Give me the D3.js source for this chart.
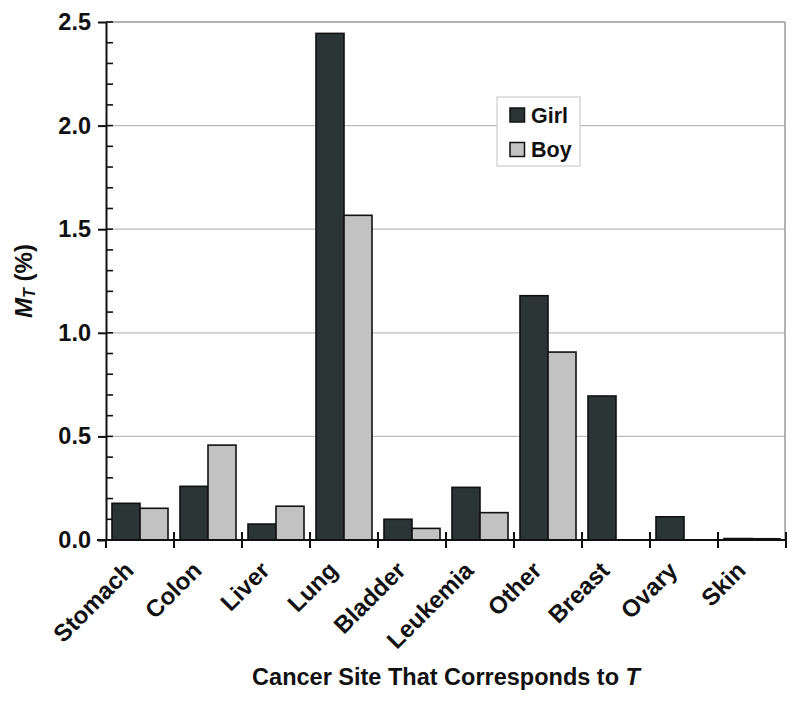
<!DOCTYPE html>
<html>
<head>
<meta charset="utf-8">
<script src="https://cdn.jsdelivr.net/npm/d3@7/dist/d3.min.js"></script>
<style>
  body { margin: 0; background: #fff; }
  svg { display: block; }
  text { font-family: "Liberation Sans", Arial, Helvetica, sans-serif; font-weight: bold; fill: #111; }
</style>
</head>
<body>
<svg id="chart" width="800" height="703"></svg>
<script>
const categories = ["Stomach", "Colon", "Liver", "Lung", "Bladder", "Leukemia", "Other", "Breast", "Ovary", "Skin"];
const seriesNames = ["Girl", "Boy"];
const girlValues = [0.177, 0.259, 0.077, 2.445, 0.100, 0.254, 1.179, 0.695, 0.112, 0.007];
const boyValues  = [0.153, 0.458, 0.163, 1.567, 0.056, 0.132, 0.907, 0, 0, 0.006];
const yTicks = [0.0, 0.5, 1.0, 1.5, 2.0, 2.5];
const colors = { Girl: "#2c3535", Boy: "#c2c2c2" };

const svg = d3.select("#chart");
const L = 106, R = 786, T = 22, B = 540;

const x = d3.scaleBand().domain(categories).range([L, R]).padding(0);
const x1 = d3.scaleBand().domain(seriesNames).range([0, x.bandwidth()]).paddingInner(0).paddingOuter(0.214);
const y = d3.scaleLinear().domain([0, 2.5]).range([B, T]);

const rows = categories.map((c, i) => ({ cat: c, Girl: girlValues[i], Boy: boyValues[i] }));

// gridlines
svg.append("g").selectAll("line").data(yTicks.slice(1)).join("line")
  .attr("x1", L).attr("x2", R - 1).attr("y1", d => y(d)).attr("y2", d => y(d))
  .attr("stroke", d => d === 2.5 ? "#999" : "#bbb").attr("stroke-width", d => d === 2.5 ? 1.5 : 1.2);
// right border
svg.append("line").attr("x1", R - 1).attr("x2", R - 1).attr("y1", T).attr("y2", B)
  .attr("stroke", "#999").attr("stroke-width", 1.5);

// bars
const g = svg.append("g");
rows.forEach(r => {
  seriesNames.forEach(s => {
    if (r[s] <= 0) return;
    g.append("rect")
      .attr("x", x(r.cat) + x1(s))
      .attr("width", x1.bandwidth())
      .attr("y", y(r[s]))
      .attr("height", B - y(r[s]))
      .attr("fill", colors[s])
      .attr("stroke", "#111")
      .attr("stroke-width", 1.6);
  });
});

// y axis
const yAxis = d3.axisLeft(y).tickValues(yTicks).tickFormat(d3.format(".1f")).tickSize(8).tickSizeOuter(0).tickPadding(7);
const ya = svg.append("g").attr("transform", `translate(${L},0)`).call(yAxis);
ya.select(".domain").attr("stroke", "#111").attr("stroke-width", 2);
ya.selectAll(".tick line").attr("stroke", "#111").attr("stroke-width", 2).attr("x2", -8);
ya.selectAll(".tick text").attr("font-size", 23.5).attr("font-family", "Liberation Sans, Arial, sans-serif").attr("font-weight", "bold").attr("fill", "#111");
// minor ticks inside
const minor = d3.range(0, 26).map(i => i / 10);
svg.append("g").selectAll("line").data(minor).join("line")
  .attr("x1", L).attr("x2", L + 7).attr("y1", d => y(d)).attr("y2", d => y(d))
  .attr("stroke", "#111").attr("stroke-width", 1.6);

// x axis line
svg.append("line").attr("x1", L - 9).attr("x2", R).attr("y1", B).attr("y2", B)
  .attr("stroke", "#111").attr("stroke-width", 2);
// boundary ticks
const bounds = categories.map(c => x(c)).concat([x.range()[1]]);
svg.append("g").selectAll("line").data(bounds).join("line")
  .attr("x1", d => d).attr("x2", d => d).attr("y1", (d, i) => i === 0 ? B : B - 8).attr("y2", B + 8)
  .attr("stroke", "#111").attr("stroke-width", 2);

// x labels
svg.append("g").selectAll("text").data(categories).join("text")
  .attr("transform", d => `translate(${x(d) + x.bandwidth() / 2 - 5},572) rotate(-45)`)
  .attr("text-anchor", "end")
  .attr("font-size", 24)
  .text(d => d);

// x title
const xt = svg.append("text").attr("x", (L + R) / 2).attr("y", 685).attr("text-anchor", "middle").attr("font-size", 23.5);
xt.append("tspan").text("Cancer Site That Corresponds to ");
xt.append("tspan").attr("font-style", "italic").text("T");

// y title
const yt = svg.append("text").attr("transform", `translate(32,${(T + B) / 2}) rotate(-90)`).attr("text-anchor", "middle").attr("font-size", 24);
yt.append("tspan").attr("font-style", "italic").text("M");
yt.append("tspan").attr("font-style", "italic").attr("font-size", 16).attr("dy", 3).text("T");
yt.append("tspan").attr("dy", -3).text(" (%)");

// legend
const lg = svg.append("g");
lg.append("rect").attr("x", 497).attr("y", 97).attr("width", 83).attr("height", 69)
  .attr("fill", "#fff").attr("stroke", "#ccc").attr("stroke-width", 1.2);
seriesNames.forEach((s, i) => {
  const yy = 108 + i * 34.5;
  lg.append("rect").attr("x", 510).attr("y", yy).attr("width", 14.5).attr("height", 14)
    .attr("fill", colors[s]).attr("stroke", "#111").attr("stroke-width", 1.5);
  lg.append("text").attr("x", 531).attr("y", yy + 14.5).attr("font-size", 21.5).text(s);
});
</script>
</body>
</html>
